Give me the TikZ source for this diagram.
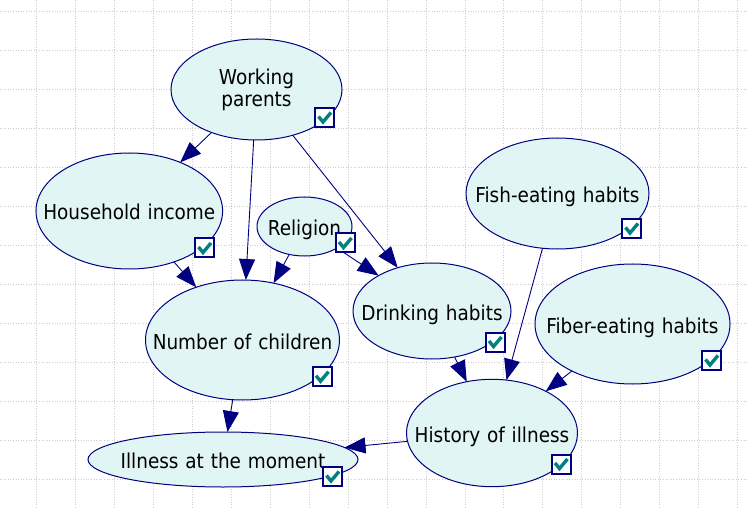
\documentclass[tikz,border=0pt]{standalone}
\usepackage{fontspec}
\setmainfont{DejaVu Sans Condensed}
\usetikzlibrary{shapes.geometric,arrows.meta}
\definecolor{nodefill}{RGB}{225,245,245}
\definecolor{navyb}{RGB}{0,0,128}
\definecolor{chkc}{RGB}{0,128,128}
\definecolor{gridc}{RGB}{205,205,205}
\tikzset{
  gridl/.style={draw=gridc, line width=0.8bp, dash pattern=on 1bp off 1.6bp},
  bn/.style={ellipse, draw=navyb, fill=nodefill, line width=1bp, inner sep=0pt, outer sep=0pt,
    text height=0pt, text depth=0pt, text width=0pt,
    font=\fontsize{20.5bp}{22bp}\selectfont, text=black},
  arr/.style={draw=navyb, line width=0.9bp, -{Triangle[length=21bp,width=16bp]}},
  cbx/.style={rectangle, draw=navyb, line width=2bp, fill=white, minimum size=19bp, inner sep=0pt, outer sep=0pt},
  chk/.style={draw=chkc, line width=3.4bp}
}
\newcommand\lbl[2][-9bp]{\makebox[0pt][c]{\raisebox{#1}[0pt][0pt]{#2}}}
\newcommand\cbox[3]{\node[cbx] (#1) at (#2,#3) {};
  \draw[chk] (#1.center) ++(-6,-1) -- ++(4.5,5.5) -- ++(8,-9.5);}
\begin{document}
\begin{tikzpicture}[x=1bp,y=-1bp]
\useasboundingbox (0,0) rectangle (748,509);
\fill[white] (0,0) rectangle (748,509);
\foreach \i in {0,...,18} \draw[gridl] ({36.7+38.93*\i},0) -- ({36.7+38.93*\i},509);
\foreach \j in {0,...,12} \draw[gridl] (0,{11+39.05*\j}) -- (748,{11+39.05*\j});

\node[bn, minimum width=171bp, minimum height=101bp] (wp) at (256.5,89.5) {\lbl[5bp]{Working}\lbl[-17.5bp]{parents}};
\node[bn, minimum width=186.6bp, minimum height=116bp] (hi) at (129.3,211) {\lbl{Household income}};
\node[bn, minimum width=95bp, minimum height=59bp] (re) at (304.5,226.5) {\lbl{Religion}};
\node[bn, minimum width=194bp, minimum height=120bp] (nc) at (242.5,340) {\lbl{Number of children}};
\node[bn, minimum width=270bp, minimum height=55bp] (im) at (223,459.5) {\lbl{Illness at the moment}};
\node[bn, minimum width=158bp, minimum height=96bp] (dh) at (432,311) {\lbl{Drinking habits}};
\node[bn, minimum width=171bp, minimum height=107.4bp] (hy) at (492,433) {\lbl{History of illness}};
\node[bn, minimum width=183bp, minimum height=111bp] (fi) at (557.5,193.5) {\lbl{Fish-eating habits}};
\node[bn, minimum width=195bp, minimum height=120bp] (fb) at (632.5,324) {\lbl{Fiber-eating habits}};

\draw[arr] (wp) -- (hi);
\draw[arr] (wp) -- (nc);
\draw[arr] (wp) -- (dh);
\draw[arr] (hi) -- (nc);
\draw[arr] (re) -- (nc);
\draw[arr] (re) -- (dh);
\draw[arr] (nc) -- (im);
\draw[arr] (dh) -- (hy);
\draw[arr] (fi) -- (hy);
\draw[arr] (fb) -- (hy);
\draw[arr] (hy) -- (im);

\cbox{cwp}{324.5}{117.5}
\cbox{chi}{204.5}{248}
\cbox{cre}{345}{243}
\cbox{cnc}{322}{376.7}
\cbox{cim}{332.5}{476.5}
\cbox{cdh}{495}{342}
\cbox{chy}{561}{464}
\cbox{cfi}{631.5}{228.5}
\cbox{cfb}{711.5}{360.5}
\end{tikzpicture}
\end{document}
